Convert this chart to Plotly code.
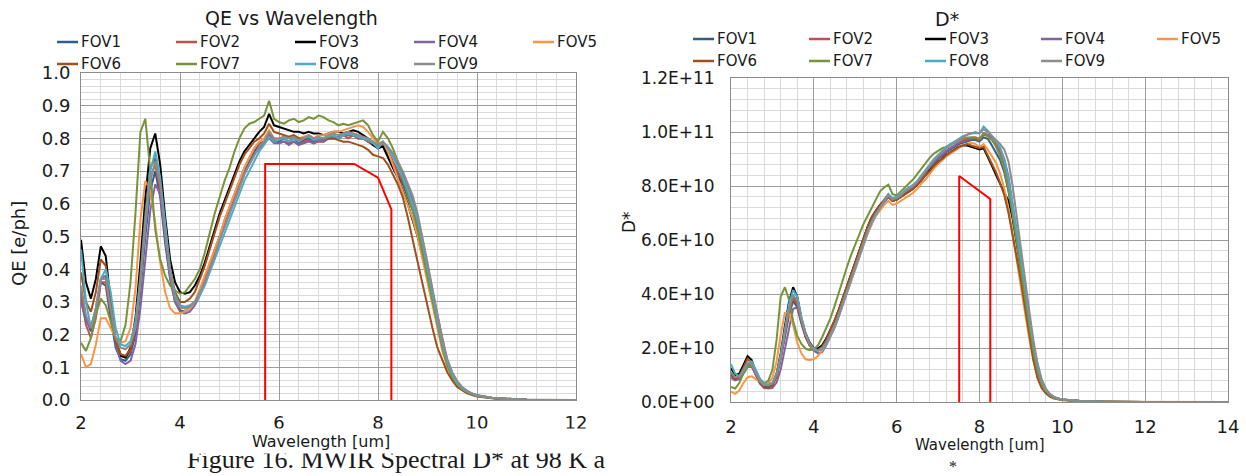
import plotly.graph_objects as go

W, H = 1246, 476

SERIES = ["FOV1", "FOV2", "FOV3", "FOV4", "FOV5", "FOV6", "FOV7", "FOV8", "FOV9"]
COLORS = ["#2f5d8c", "#c0504d", "#000000", "#8064a2", "#f79646",
          "#a0501c", "#77933c", "#4bacc6", "#8c8c8c"]

# ---------------- QE vs Wavelength (left panel) ----------------
QE_WL = [2.0, 2.1, 2.2, 2.3, 2.4, 2.5, 2.6, 2.7, 2.8, 2.9,
         3.0, 3.1, 3.2, 3.3, 3.4, 3.5, 3.6, 3.7, 3.8, 3.9,
         4.0, 4.1, 4.2, 4.3, 4.4, 4.5, 4.6, 4.7, 4.8, 4.9,
         5.0, 5.1, 5.2, 5.3, 5.4, 5.5, 5.6, 5.7, 5.8, 5.9,
         6.0, 6.1, 6.2, 6.3, 6.4, 6.5, 6.6, 6.7, 6.8, 6.9,
         7.0, 7.1, 7.2, 7.3, 7.4, 7.5, 7.6, 7.7, 7.8, 7.9,
         8.0, 8.1, 8.2, 8.3, 8.4, 8.5, 8.6, 8.7, 8.8, 8.9,
         9.0, 9.1, 9.2, 9.3, 9.4, 9.5, 9.6, 9.7, 9.8, 9.9,
         10.0, 10.3, 10.6, 11.0, 12.0]

QE_FOV1 = [0.34, 0.25, 0.21, 0.27, 0.36, 0.35, 0.25, 0.16, 0.125, 0.12,
           0.14, 0.20, 0.33, 0.50, 0.64, 0.70, 0.62, 0.48, 0.37, 0.30,
           0.275, 0.27, 0.28, 0.30, 0.33, 0.37, 0.41, 0.45, 0.50, 0.54,
           0.58, 0.62, 0.66, 0.70, 0.73, 0.76, 0.78, 0.79, 0.81, 0.795,
           0.79, 0.80, 0.79, 0.80, 0.785, 0.795, 0.80, 0.79, 0.80, 0.795,
           0.80, 0.81, 0.80, 0.81, 0.81, 0.81, 0.80, 0.80, 0.79, 0.78,
           0.77, 0.78, 0.75, 0.72, 0.69, 0.66, 0.62, 0.58, 0.53, 0.46,
           0.39, 0.32, 0.24, 0.17, 0.11, 0.075, 0.05, 0.035, 0.025, 0.018,
           0.013, 0.006, 0.003, 0.001, 0.0]
QE_FOV2 = [0.32, 0.23, 0.19, 0.25, 0.36, 0.36, 0.27, 0.18, 0.14, 0.13,
           0.15, 0.22, 0.36, 0.54, 0.68, 0.72, 0.64, 0.50, 0.38, 0.31,
           0.285, 0.28, 0.285, 0.30, 0.33, 0.37, 0.41, 0.46, 0.50, 0.55,
           0.59, 0.63, 0.67, 0.71, 0.74, 0.77, 0.785, 0.79, 0.81, 0.79,
           0.785, 0.79, 0.785, 0.79, 0.78, 0.79, 0.795, 0.785, 0.79, 0.79,
           0.80, 0.80, 0.80, 0.81, 0.80, 0.81, 0.80, 0.80, 0.79, 0.78,
           0.775, 0.78, 0.76, 0.73, 0.70, 0.67, 0.63, 0.59, 0.54, 0.47,
           0.40, 0.32, 0.25, 0.18, 0.12, 0.08, 0.055, 0.038, 0.027, 0.019,
           0.014, 0.007, 0.003, 0.001, 0.0]
QE_FOV3 = [0.49, 0.36, 0.31, 0.37, 0.47, 0.44, 0.30, 0.18, 0.135, 0.13,
           0.16, 0.25, 0.42, 0.62, 0.77, 0.815, 0.72, 0.56, 0.43, 0.36,
           0.33, 0.325, 0.33, 0.35, 0.38, 0.42, 0.47, 0.52, 0.57, 0.61,
           0.65, 0.69, 0.73, 0.76, 0.78, 0.80, 0.82, 0.835, 0.875, 0.84,
           0.835, 0.83, 0.825, 0.82, 0.82, 0.815, 0.82, 0.815, 0.815, 0.81,
           0.815, 0.82, 0.82, 0.815, 0.82, 0.825, 0.82, 0.81, 0.80, 0.78,
           0.77, 0.775, 0.74, 0.71, 0.68, 0.64, 0.60, 0.55, 0.50, 0.44,
           0.37, 0.30, 0.23, 0.165, 0.11, 0.075, 0.05, 0.035, 0.025, 0.018,
           0.013, 0.006, 0.003, 0.001, 0.0]
QE_FOV4 = [0.30, 0.24, 0.22, 0.28, 0.37, 0.38, 0.29, 0.17, 0.12, 0.11,
           0.12, 0.17, 0.28, 0.44, 0.58, 0.66, 0.63, 0.50, 0.38, 0.30,
           0.27, 0.265, 0.27, 0.29, 0.32, 0.36, 0.40, 0.44, 0.49, 0.53,
           0.57, 0.61, 0.65, 0.69, 0.72, 0.75, 0.77, 0.785, 0.80, 0.785,
           0.785, 0.79, 0.78, 0.79, 0.78, 0.785, 0.79, 0.785, 0.795, 0.79,
           0.80, 0.80, 0.805, 0.81, 0.81, 0.815, 0.81, 0.80, 0.795, 0.785,
           0.775, 0.785, 0.77, 0.745, 0.72, 0.69, 0.655, 0.61, 0.56, 0.49,
           0.41, 0.33, 0.25, 0.18, 0.12, 0.08, 0.055, 0.038, 0.027, 0.019,
           0.014, 0.007, 0.003, 0.001, 0.0]
QE_FOV5 = [0.14, 0.10, 0.11, 0.17, 0.25, 0.25, 0.22, 0.19, 0.175, 0.18,
           0.22, 0.34, 0.55, 0.67, 0.64, 0.54, 0.42, 0.33, 0.28, 0.265,
           0.265, 0.27, 0.28, 0.30, 0.34, 0.38, 0.42, 0.46, 0.50, 0.55,
           0.59, 0.63, 0.67, 0.71, 0.74, 0.77, 0.79, 0.80, 0.825, 0.80,
           0.80, 0.805, 0.80, 0.81, 0.80, 0.805, 0.81, 0.80, 0.81, 0.81,
           0.815, 0.82, 0.82, 0.825, 0.83, 0.835, 0.84, 0.835, 0.82, 0.80,
           0.785, 0.79, 0.76, 0.72, 0.68, 0.64, 0.60, 0.555, 0.50, 0.43,
           0.36, 0.28, 0.21, 0.15, 0.10, 0.065, 0.045, 0.03, 0.022, 0.016,
           0.012, 0.006, 0.003, 0.001, 0.0]
QE_FOV6 = [0.39, 0.30, 0.27, 0.33, 0.43, 0.41, 0.29, 0.18, 0.14, 0.135,
           0.155, 0.23, 0.38, 0.57, 0.71, 0.74, 0.66, 0.52, 0.40, 0.33,
           0.30, 0.30, 0.31, 0.33, 0.37, 0.41, 0.46, 0.51, 0.56, 0.60,
           0.64, 0.68, 0.72, 0.75, 0.77, 0.79, 0.80, 0.815, 0.845, 0.82,
           0.815, 0.81, 0.805, 0.81, 0.80, 0.80, 0.805, 0.80, 0.80, 0.80,
           0.80, 0.80, 0.795, 0.79, 0.79, 0.785, 0.78, 0.775, 0.765, 0.75,
           0.745, 0.74, 0.72, 0.69, 0.66, 0.62, 0.56, 0.49, 0.42, 0.35,
           0.28, 0.22, 0.16, 0.12, 0.085, 0.06, 0.04, 0.03, 0.02, 0.015,
           0.011, 0.005, 0.002, 0.001, 0.0]
QE_FOV7 = [0.175, 0.15, 0.19, 0.26, 0.31, 0.29, 0.24, 0.19, 0.18, 0.23,
           0.36, 0.57, 0.82, 0.86, 0.70, 0.52, 0.43, 0.38, 0.35, 0.335,
           0.325, 0.33, 0.35, 0.37, 0.40, 0.45, 0.51, 0.57, 0.62, 0.67,
           0.71, 0.76, 0.80, 0.83, 0.845, 0.85, 0.86, 0.87, 0.915, 0.86,
           0.85, 0.845, 0.855, 0.86, 0.85, 0.855, 0.865, 0.86, 0.87, 0.865,
           0.855, 0.85, 0.84, 0.845, 0.84, 0.845, 0.85, 0.855, 0.84, 0.81,
           0.79, 0.82, 0.80, 0.77, 0.73, 0.68, 0.63, 0.58, 0.52, 0.45,
           0.38, 0.30, 0.23, 0.16, 0.105, 0.07, 0.048, 0.033, 0.024, 0.017,
           0.012, 0.006, 0.003, 0.001, 0.0]
QE_FOV8 = [0.46, 0.30, 0.22, 0.28, 0.37, 0.40, 0.33, 0.22, 0.17, 0.165,
           0.18, 0.24, 0.37, 0.55, 0.70, 0.76, 0.68, 0.53, 0.40, 0.32,
           0.29, 0.285, 0.29, 0.30, 0.32, 0.35, 0.39, 0.43, 0.47, 0.51,
           0.55, 0.59, 0.63, 0.67, 0.70, 0.73, 0.76, 0.78, 0.805, 0.79,
           0.795, 0.80, 0.79, 0.80, 0.79, 0.80, 0.805, 0.795, 0.80, 0.80,
           0.805, 0.81, 0.80, 0.81, 0.815, 0.81, 0.805, 0.80, 0.795, 0.785,
           0.77, 0.79, 0.77, 0.745, 0.715, 0.68, 0.645, 0.60, 0.55, 0.48,
           0.40, 0.32, 0.245, 0.175, 0.115, 0.078, 0.052, 0.036, 0.026, 0.019,
           0.014, 0.007, 0.003, 0.001, 0.0]
QE_FOV9 = [0.35, 0.26, 0.22, 0.28, 0.37, 0.37, 0.28, 0.19, 0.16, 0.155,
           0.17, 0.22, 0.35, 0.53, 0.67, 0.73, 0.66, 0.51, 0.39, 0.31,
           0.285, 0.28, 0.285, 0.30, 0.33, 0.36, 0.40, 0.44, 0.49, 0.53,
           0.57, 0.61, 0.65, 0.69, 0.72, 0.75, 0.775, 0.79, 0.82, 0.80,
           0.80, 0.805, 0.80, 0.805, 0.795, 0.80, 0.81, 0.80, 0.805, 0.80,
           0.81, 0.815, 0.81, 0.815, 0.82, 0.815, 0.81, 0.805, 0.80, 0.79,
           0.78, 0.79, 0.775, 0.755, 0.73, 0.70, 0.665, 0.625, 0.57, 0.50,
           0.42, 0.34, 0.26, 0.185, 0.125, 0.085, 0.058, 0.04, 0.028, 0.02,
           0.015, 0.007, 0.003, 0.001, 0.0]

QE_SERIES = [QE_FOV1, QE_FOV2, QE_FOV3, QE_FOV4, QE_FOV5,
             QE_FOV6, QE_FOV7, QE_FOV8, QE_FOV9]

# spectral band outline drawn in red on the QE panel
BAND_QE_WL = [5.72, 5.72, 7.52, 8.0, 8.27, 8.27]
BAND_QE = [0.0, 0.722, 0.722, 0.68, 0.583, 0.0]

# ---------------- D* (right panel), values in units of 1e10 ----------------
DSTAR_UNIT = 1e10
DS_WL = [2.0, 2.1, 2.2, 2.3, 2.4, 2.5, 2.6, 2.7, 2.8, 2.9,
         3.0, 3.1, 3.2, 3.3, 3.4, 3.5, 3.6, 3.7, 3.8, 3.9,
         4.0, 4.1, 4.2, 4.3, 4.4, 4.5, 4.6, 4.7, 4.8, 4.9,
         5.0, 5.1, 5.2, 5.3, 5.4, 5.5, 5.6, 5.7, 5.8, 5.9,
         6.0, 6.1, 6.2, 6.3, 6.4, 6.5, 6.6, 6.7, 6.8, 6.9,
         7.0, 7.1, 7.2, 7.3, 7.4, 7.5, 7.6, 7.7, 7.8, 7.9,
         8.0, 8.1, 8.2, 8.3, 8.4, 8.5, 8.6, 8.7, 8.8, 8.9,
         9.0, 9.1, 9.2, 9.3, 9.4, 9.5, 9.6, 9.7, 9.8, 9.9,
         10.0, 10.5, 11.0, 12.0, 13.0, 14.0]

DS_FOV1 = [1.00, 0.90, 0.95, 1.20, 1.42, 1.35, 1.00, 0.72, 0.60, 0.58,
           0.65, 0.95, 1.60, 2.40, 3.20, 3.75, 3.50, 2.90, 2.40, 2.10,
           1.95, 1.90, 2.00, 2.25, 2.55, 2.90, 3.30, 3.75, 4.20, 4.65,
           5.10, 5.55, 6.00, 6.40, 6.75, 7.05, 7.25, 7.45, 7.65, 7.45,
           7.50, 7.60, 7.75, 7.85, 7.95, 8.10, 8.30, 8.45, 8.65, 8.85,
           9.00, 9.10, 9.25, 9.35, 9.45, 9.55, 9.60, 9.65, 9.70, 9.70,
           9.65, 9.80, 9.75, 9.50, 9.25, 8.95, 8.50, 7.80, 6.90, 6.05,
           5.20, 4.10, 3.00, 2.00, 1.25, 0.72, 0.42, 0.26, 0.17, 0.12,
           0.09, 0.03, 0.01, 0.003, 0.0, 0.0]
DS_FOV2 = [0.95, 0.85, 0.90, 1.15, 1.40, 1.35, 1.05, 0.75, 0.62, 0.60,
           0.68, 1.00, 1.70, 2.55, 3.35, 3.85, 3.60, 3.00, 2.45, 2.15,
           2.00, 1.95, 2.05, 2.30, 2.60, 2.95, 3.35, 3.80, 4.25, 4.70,
           5.15, 5.60, 6.05, 6.45, 6.80, 7.10, 7.30, 7.50, 7.70, 7.50,
           7.55, 7.65, 7.80, 7.90, 8.00, 8.15, 8.35, 8.50, 8.70, 8.90,
           9.05, 9.15, 9.30, 9.40, 9.50, 9.60, 9.65, 9.70, 9.75, 9.75,
           9.70, 9.90, 9.85, 9.70, 9.55, 9.25, 8.75, 8.00, 7.05, 6.15,
           5.25, 4.15, 3.05, 2.05, 1.28, 0.74, 0.43, 0.27, 0.18, 0.12,
           0.09, 0.03, 0.01, 0.003, 0.0, 0.0]
DS_FOV3 = [1.25, 1.00, 1.05, 1.40, 1.70, 1.55, 1.10, 0.75, 0.60, 0.58,
           0.68, 1.05, 1.80, 2.80, 3.70, 4.25, 3.90, 3.10, 2.55, 2.20,
           2.00, 1.98, 2.10, 2.35, 2.65, 3.00, 3.40, 3.85, 4.30, 4.75,
           5.20, 5.65, 6.10, 6.50, 6.85, 7.10, 7.30, 7.45, 7.60, 7.45,
           7.50, 7.60, 7.70, 7.80, 7.90, 8.05, 8.25, 8.40, 8.60, 8.75,
           8.90, 9.00, 9.15, 9.25, 9.35, 9.45, 9.50, 9.50, 9.45, 9.40,
           9.35, 9.40, 9.10, 8.75, 8.40, 8.05, 7.75, 7.45, 6.80, 5.85,
           4.90, 3.85, 2.85, 1.90, 1.15, 0.68, 0.40, 0.25, 0.16, 0.11,
           0.08, 0.03, 0.01, 0.003, 0.0, 0.0]
DS_FOV4 = [0.90, 0.80, 0.85, 1.05, 1.30, 1.30, 1.00, 0.68, 0.52, 0.50,
           0.52, 0.72, 1.20, 1.95, 2.75, 3.45, 3.50, 3.00, 2.45, 2.10,
           1.90, 1.80, 1.85, 2.10, 2.40, 2.75, 3.15, 3.60, 4.05, 4.50,
           4.95, 5.40, 5.85, 6.25, 6.60, 6.95, 7.15, 7.40, 7.60, 7.45,
           7.50, 7.60, 7.75, 7.85, 7.95, 8.10, 8.30, 8.50, 8.70, 8.90,
           9.05, 9.15, 9.30, 9.40, 9.50, 9.60, 9.70, 9.75, 9.80, 9.80,
           9.75, 9.95, 9.90, 9.80, 9.65, 9.40, 9.00, 8.35, 7.40, 6.30,
           5.30, 4.25, 3.20, 2.15, 1.35, 0.78, 0.46, 0.28, 0.18, 0.12,
           0.09, 0.03, 0.01, 0.003, 0.0, 0.0]
DS_FOV5 = [0.38, 0.30, 0.42, 0.70, 0.92, 0.95, 0.85, 0.72, 0.65, 0.68,
           0.90, 1.50, 2.50, 3.30, 3.30, 2.85, 2.20, 1.80, 1.58, 1.56,
           1.58, 1.70, 1.90, 2.15, 2.45, 2.80, 3.20, 3.60, 4.05, 4.50,
           4.95, 5.40, 5.85, 6.25, 6.60, 6.90, 7.10, 7.30, 7.45, 7.30,
           7.35, 7.45, 7.55, 7.65, 7.75, 7.90, 8.10, 8.25, 8.45, 8.65,
           8.80, 8.95, 9.10, 9.20, 9.30, 9.40, 9.50, 9.55, 9.60, 9.55,
           9.45, 9.55, 9.35, 9.10, 8.85, 8.45, 7.90, 7.15, 6.25, 5.25,
           4.25, 3.25, 2.35, 1.55, 0.95, 0.55, 0.33, 0.21, 0.14, 0.10,
           0.07, 0.02, 0.008, 0.002, 0.0, 0.0]
DS_FOV6 = [1.05, 0.85, 0.95, 1.30, 1.60, 1.45, 1.05, 0.70, 0.55, 0.52,
           0.60, 0.95, 1.65, 2.55, 3.40, 3.95, 3.70, 3.00, 2.45, 2.10,
           1.95, 1.92, 2.05, 2.30, 2.65, 3.00, 3.40, 3.85, 4.30, 4.75,
           5.20, 5.65, 6.10, 6.50, 6.85, 7.10, 7.30, 7.45, 7.60, 7.45,
           7.50, 7.60, 7.70, 7.80, 7.90, 8.05, 8.20, 8.40, 8.55, 8.75,
           8.90, 9.00, 9.15, 9.25, 9.35, 9.45, 9.50, 9.55, 9.50, 9.45,
           9.40, 9.45, 9.15, 8.85, 8.50, 8.10, 7.65, 7.00, 6.20, 5.30,
           4.50, 3.50, 2.45, 1.55, 0.88, 0.52, 0.32, 0.20, 0.13, 0.09,
           0.07, 0.02, 0.008, 0.002, 0.0, 0.0]
DS_FOV7 = [0.56, 0.50, 0.70, 1.05, 1.30, 1.35, 1.15, 0.85, 0.70, 0.78,
           1.20, 2.30, 3.90, 4.25, 3.80, 3.00, 2.45, 2.15, 1.98, 1.92,
           1.95, 2.10, 2.40, 2.75, 3.10, 3.55, 4.05, 4.55, 5.00, 5.45,
           5.85, 6.25, 6.60, 6.90, 7.20, 7.50, 7.80, 7.95, 8.05, 7.70,
           7.65, 7.80, 7.95, 8.10, 8.25, 8.45, 8.65, 8.85, 9.05, 9.20,
           9.30, 9.40, 9.45, 9.55, 9.60, 9.70, 9.75, 9.80, 9.80, 9.80,
           9.75, 9.95, 9.85, 9.70, 9.45, 9.10, 8.60, 7.85, 6.90, 5.85,
           4.85, 3.85, 2.85, 1.90, 1.15, 0.66, 0.40, 0.25, 0.16, 0.11,
           0.08, 0.03, 0.01, 0.003, 0.0, 0.0]
DS_FOV8 = [1.40, 1.05, 0.95, 1.15, 1.45, 1.50, 1.20, 0.85, 0.68, 0.65,
           0.72, 1.05, 1.75, 2.70, 3.60, 4.15, 3.90, 3.15, 2.55, 2.15,
           1.95, 1.90, 1.95, 2.15, 2.45, 2.80, 3.20, 3.65, 4.10, 4.55,
           5.00, 5.45, 5.90, 6.30, 6.65, 6.95, 7.20, 7.45, 7.70, 7.55,
           7.60, 7.70, 7.85, 7.95, 8.05, 8.20, 8.40, 8.60, 8.80, 9.00,
           9.15, 9.30, 9.45, 9.55, 9.65, 9.75, 9.85, 9.90, 9.95, 10.00,
           9.95, 10.20, 10.05, 9.85, 9.65, 9.40, 8.95, 8.25, 7.35, 6.30,
           5.30, 4.25, 3.20, 2.15, 1.35, 0.78, 0.46, 0.28, 0.18, 0.12,
           0.09, 0.03, 0.01, 0.003, 0.0, 0.0]
DS_FOV9 = [1.10, 0.92, 0.95, 1.20, 1.45, 1.40, 1.05, 0.75, 0.62, 0.60,
           0.68, 1.00, 1.65, 2.55, 3.45, 3.95, 3.75, 3.05, 2.50, 2.15,
           1.98, 1.92, 2.00, 2.20, 2.50, 2.85, 3.25, 3.70, 4.15, 4.60,
           5.05, 5.50, 5.95, 6.35, 6.70, 7.00, 7.20, 7.45, 7.65, 7.50,
           7.55, 7.65, 7.80, 7.90, 8.00, 8.15, 8.35, 8.55, 8.75, 8.95,
           9.10, 9.25, 9.40, 9.50, 9.60, 9.70, 9.80, 9.90, 9.95, 9.95,
           9.95, 10.10, 10.00, 9.85, 9.70, 9.55, 9.35, 8.90, 8.00, 6.80,
           5.75, 4.55, 3.40, 2.30, 1.45, 0.85, 0.50, 0.30, 0.19, 0.13,
           0.09, 0.03, 0.01, 0.003, 0.0, 0.0]

DS_SERIES = [DS_FOV1, DS_FOV2, DS_FOV3, DS_FOV4, DS_FOV5,
             DS_FOV6, DS_FOV7, DS_FOV8, DS_FOV9]

# spectral band outline drawn in red on the D* panel (units of 1e10)
BAND_DS_WL = [7.51, 7.51, 8.26, 8.26]
BAND_DS = [0.0, 8.37, 7.52, 0.0]

DS_TICKS = [0, 2e10, 4e10, 6e10, 8e10, 1e11, 1.2e11]
DS_TICK_TEXT = ["0.0E+00", "2.0E+10", "4.0E+10", "6.0E+10",
                "8.0E+10", "1.0E+11", "1.2E+11"]

CAPTION = "Figure 16. MWIR Spectral D* at 98 K a"

SANS = "DejaVu Sans"
SERIF = "Liberation Serif"
INK = "#1a1a1a"


def px(x):
    return x / W


def py(y):
    return 1 - y / H


fig = go.Figure()

for name, color, vals in zip(SERIES, COLORS, QE_SERIES):
    fig.add_trace(go.Scatter(x=QE_WL, y=vals, name=name, mode="lines",
                             line=dict(color=color, width=2),
                             xaxis="x", yaxis="y", showlegend=False))
fig.add_trace(go.Scatter(x=BAND_QE_WL, y=BAND_QE, mode="lines",
                         line=dict(color="#ff0000", width=2),
                         xaxis="x", yaxis="y", showlegend=False))

for name, color, vals in zip(SERIES, COLORS, DS_SERIES):
    fig.add_trace(go.Scatter(x=DS_WL, y=[v * DSTAR_UNIT for v in vals],
                             name=name, mode="lines",
                             line=dict(color=color, width=2),
                             xaxis="x2", yaxis="y2", showlegend=False))
fig.add_trace(go.Scatter(x=BAND_DS_WL, y=[v * DSTAR_UNIT for v in BAND_DS],
                         mode="lines", line=dict(color="#ff0000", width=2),
                         xaxis="x2", yaxis="y2", showlegend=False))

MAJOR = "#9c9c9c"
MINOR = "#dadada"
FRAME = "#8c8c8c"

axis_common = dict(showline=True, mirror=True, linecolor=FRAME, linewidth=1,
                   showgrid=True, gridcolor=MAJOR, gridwidth=1,
                   zeroline=False, ticks="", fixedrange=True,
                   automargin=False)

fig.update_layout(
    template="none",
    width=W, height=H, autosize=False,
    margin=dict(l=0, r=0, t=0, b=0, pad=0),
    paper_bgcolor="white", plot_bgcolor="white",
    font=dict(family=SANS, color=INK),
    showlegend=False,
    xaxis=dict(domain=[px(81), px(576)], range=[2, 12], anchor="y",
               tick0=2, dtick=2, tickfont=dict(size=18, color=INK),
               ticklabelstandoff=6,
               minor=dict(tick0=2, dtick=0.4, showgrid=True,
                          gridcolor=MINOR, gridwidth=1),
               **axis_common),
    yaxis=dict(domain=[py(400), py(73)], range=[0, 1], anchor="x",
               tick0=0, dtick=0.1, tickformat=".1f",
               tickfont=dict(size=18, color=INK), ticklabelstandoff=6,
               minor=dict(tick0=0, dtick=0.02, showgrid=True,
                          gridcolor=MINOR, gridwidth=1),
               **axis_common),
    xaxis2=dict(domain=[px(731), px(1228)], range=[2, 14], anchor="y2",
                tick0=2, dtick=2, tickfont=dict(size=18, color=INK),
                ticklabelstandoff=8,
                minor=dict(tick0=2, dtick=0.4, showgrid=True,
                           gridcolor=MINOR, gridwidth=1),
                **axis_common),
    yaxis2=dict(domain=[py(402), py(78)], range=[0, 1.2e11], anchor="x2",
                tickvals=DS_TICKS, ticktext=DS_TICK_TEXT,
                tickfont=dict(size=17, color=INK), ticklabelstandoff=12,
                minor=dict(tick0=0, dtick=4e9, showgrid=True,
                           gridcolor=MINOR, gridwidth=1),
                **axis_common),
)

shapes = []
annotations = []


# legend rows: dash swatch + label, five entries per row
def legend_rows(xs, rows_y, size):
    for i, (name, color) in enumerate(zip(SERIES, COLORS)):
        row = i // 5
        x0 = xs[i % 5]
        y = rows_y[row]
        shapes.append(dict(type="line", xref="paper", yref="paper",
                           x0=px(x0), x1=px(x0 + 21), y0=py(y), y1=py(y),
                           line=dict(color=color, width=2.5)))
        annotations.append(dict(text=name, xref="paper", yref="paper",
                                x=px(x0 + 22), y=py(y), xanchor="left",
                                yanchor="middle", showarrow=False,
                                font=dict(size=size, color=INK, family=SANS)))


legend_rows([57, 176, 295, 414, 533], [42, 64], 15)
legend_rows([693, 809, 925, 1041, 1157], [39, 61], 15)

# panel titles
annotations.append(dict(text="QE vs Wavelength", xref="paper", yref="paper",
                        x=px(291), y=py(18), xanchor="center", yanchor="middle",
                        showarrow=False, font=dict(size=19, color=INK)))
annotations.append(dict(text="D*", xref="paper", yref="paper",
                        x=px(947), y=py(19), xanchor="center", yanchor="middle",
                        showarrow=False, font=dict(size=19, color=INK)))

# caption below the panels, its top edge hidden behind the panels' white area
annotations.append(dict(text=CAPTION, xref="paper", yref="paper",
                        x=px(186), y=py(475), xanchor="left", yanchor="bottom",
                        showarrow=False, borderpad=0,
                        font=dict(size=26, color=INK, family=SERIF)))
annotations.append(dict(text=" ", xref="paper", yref="paper",
                        x=px(150), y=py(428), xanchor="left", yanchor="top",
                        width=466, height=24, bgcolor="white", borderpad=0,
                        showarrow=False))
annotations.append(dict(text=" ", xref="paper", yref="paper",
                        x=px(606), y=py(452), xanchor="left", yanchor="top",
                        width=640, height=24, bgcolor="white", borderpad=0,
                        showarrow=False))
annotations.append(dict(text="*", xref="paper", yref="paper",
                        x=px(953), y=py(476), xanchor="center", yanchor="bottom",
                        showarrow=False, borderpad=0,
                        font=dict(size=16, color=INK, family=SERIF)))

# axis titles
annotations.append(dict(text="Wavelength [um]", xref="paper", yref="paper",
                        x=px(321), y=py(441), xanchor="center", yanchor="middle",
                        showarrow=False, font=dict(size=16, color=INK)))
annotations.append(dict(text="Wavelength [um]", xref="paper", yref="paper",
                        x=px(980), y=py(445), xanchor="center", yanchor="middle",
                        showarrow=False, font=dict(size=15, color=INK)))
annotations.append(dict(text="QE [e/ph]", xref="paper", yref="paper",
                        x=px(19), y=py(244), xanchor="center", yanchor="middle",
                        textangle=-90, showarrow=False,
                        font=dict(size=18, color=INK)))
annotations.append(dict(text="D*", xref="paper", yref="paper",
                        x=px(629), y=py(222), xanchor="center", yanchor="middle",
                        textangle=-90, showarrow=False,
                        font=dict(size=17, color=INK)))

fig.update_layout(shapes=shapes, annotations=annotations)

fig.write_html("out.html")
